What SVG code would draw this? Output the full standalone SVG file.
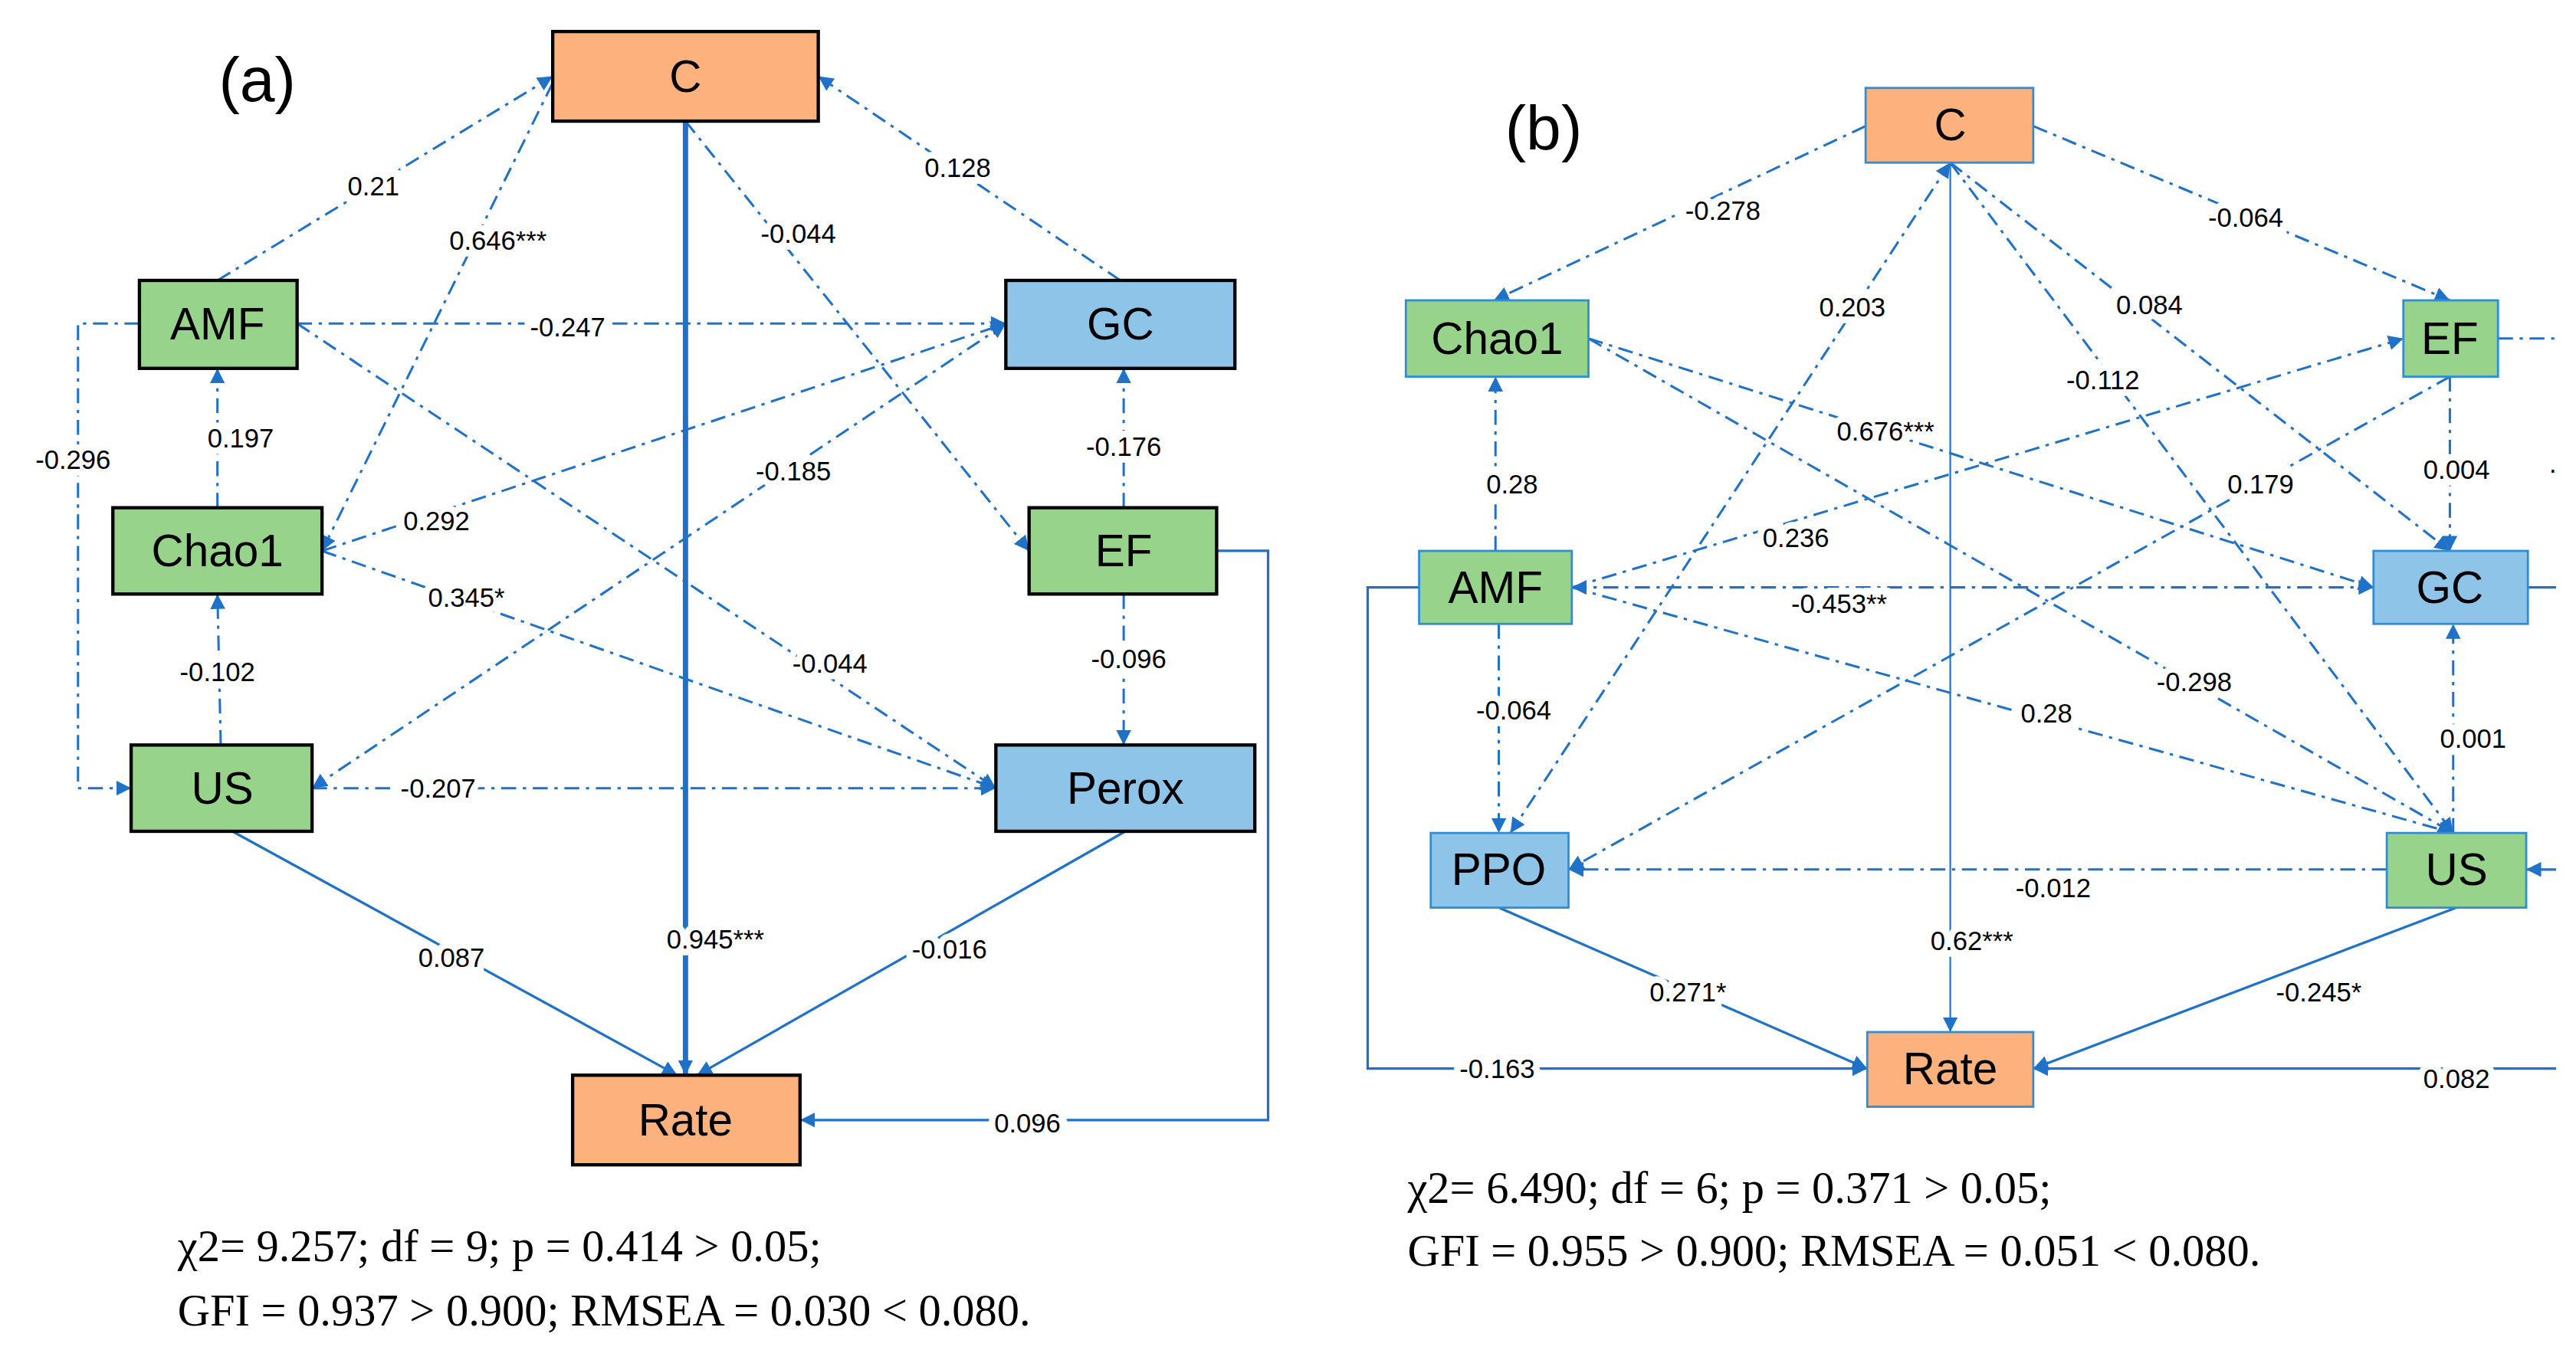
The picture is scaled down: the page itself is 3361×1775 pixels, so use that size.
<svg xmlns="http://www.w3.org/2000/svg" width="3361" height="1775" viewBox="0 0 3361 1775">
<style>
.na{stroke:#000;stroke-width:2}
.nb{stroke:#2e8fd6;stroke-width:1.3}
.or{fill:#fdb27e}.gr{fill:#97d38a}.bl{fill:#8ec4e8}
.nt{font-family:"Liberation Sans",Arial,sans-serif;font-size:27px;text-anchor:middle;dominant-baseline:central;fill:#000}
.dd{fill:none;stroke:#1f72c8;stroke-width:1.4;stroke-dasharray:9 4 2 4}
.so{fill:none;stroke:#1f72c8;stroke-width:1.5}
.tk{fill:none;stroke:#1f72c8;stroke-width:3.2}
.lb{font-family:"Liberation Sans",Arial,sans-serif;font-size:16px;text-anchor:middle;dominant-baseline:central;fill:#000;stroke:#fff;stroke-width:8;paint-order:stroke}
.st{font-family:"Liberation Serif","Times New Roman",serif;font-size:27px;fill:#000}
.pl{font-family:"Liberation Sans",Arial,sans-serif;font-size:38px;text-anchor:middle;dominant-baseline:central}
</style>
<defs>
<marker id="ar" viewBox="0 0 10 10" refX="10" refY="5" markerWidth="9" markerHeight="9" markerUnits="userSpaceOnUse" orient="auto-start-reverse"><path d="M0,0 L10,5 L0,10 z" fill="#1f72c8"/></marker>
</defs>
<rect width="3361" height="1775" fill="#fff"/>
<g transform="scale(2.1656)">
<g id="connectors">
<!-- panel a -->
<path class="dd" d="M131,169 L333,46" marker-end="url(#ar)"/>
<path class="dd" d="M333,50 L194,332" marker-end="url(#ar)"/>
<path class="dd" d="M675,169 L493,46" marker-end="url(#ar)"/>
<path class="dd" d="M413,73 L620,332" marker-end="url(#ar)"/>
<path class="tk" d="M413,73 L413,648" marker-end="url(#ar)"/>
<path class="dd" d="M179,195 L606,195" marker-end="url(#ar)"/>
<path class="dd" d="M179,195 L600,475" marker-end="url(#ar)"/>
<path class="dd" d="M194,332 L600,475" marker-end="url(#ar)"/>
<path class="dd" d="M194,332 L606,195" marker-end="url(#ar)"/>
<path class="dd" d="M606,195 L188,475" marker-start="url(#ar)" marker-end="url(#ar)"/>
<path class="dd" d="M188,475 L600,475" marker-end="url(#ar)"/>
<path class="dd" d="M84,195 L47,195 L47,475 L79,475" marker-end="url(#ar)"/>
<path class="dd" d="M131,306 L131,222" marker-end="url(#ar)"/>
<path class="dd" d="M133,449 L131,358" marker-end="url(#ar)"/>
<path class="dd" d="M677,306 L677,222" marker-end="url(#ar)"/>
<path class="dd" d="M677,358 L677,449" marker-end="url(#ar)"/>
<path class="so" d="M140,501 L408,648" marker-end="url(#ar)"/>
<path class="so" d="M678,501 L420,648" marker-end="url(#ar)"/>
<path class="so" d="M733,332 L764,332 L764,675 L482,675" marker-end="url(#ar)"/>
<!-- panel b -->
<path class="dd" d="M1124,76 L900,181" marker-end="url(#ar)"/>
<path class="dd" d="M1225,76 L1476,181" marker-end="url(#ar)"/>
<path class="so" style="stroke-width:1" d="M1175,98 L1175,622" marker-end="url(#ar)"/>
<path class="dd" d="M1175,98 L910,502" marker-start="url(#ar)" marker-end="url(#ar)"/>
<path class="dd" d="M1175,98 L1476,332" marker-end="url(#ar)"/>
<path class="dd" d="M1175,98 L1478,502" marker-end="url(#ar)"/>
<path class="dd" d="M957,204 L1430,354" marker-end="url(#ar)"/>
<path class="dd" d="M957,204 L1478,502" marker-end="url(#ar)"/>
<path class="dd" d="M901,332 L901,227" marker-end="url(#ar)"/>
<path class="dd" d="M947,354 L1448,204" marker-end="url(#ar)"/>
<path class="dd" d="M947,354 L1430,354" marker-start="url(#ar)" marker-end="url(#ar)"/>
<path class="dd" d="M1476,227 L1476,332" marker-end="url(#ar)"/>
<path class="dd" d="M1476,227 L945,524" marker-end="url(#ar)"/>
<path class="dd" d="M947,354 L1478,502" marker-end="url(#ar)"/>
<path class="dd" d="M903,376 L903,502" marker-end="url(#ar)"/>
<path class="dd" d="M1438,524 L945,524" marker-end="url(#ar)"/>
<path class="dd" d="M1478,502 L1478,376" marker-end="url(#ar)"/>
<path class="so" d="M903,547 L1125,644" marker-end="url(#ar)"/>
<path class="so" d="M1480,547 L1225,644" marker-end="url(#ar)"/>
<path class="so" d="M855,354 L824,354 L824,644 L1125,644" marker-end="url(#ar)"/>
<path class="dd" d="M1505,204 L1540,204"/>
<path class="so" d="M1523,354 L1540,354"/>
<path class="so" d="M1540,524 L1522,524" marker-end="url(#ar)"/>
<path class="so" d="M1540,644 L1225,644" marker-end="url(#ar)"/>
</g>
<g id="labels">
<text class="lb" x="225" y="112">0.21</text>
<text class="lb" x="300" y="145">0.646***</text>
<text class="lb" x="577" y="101">0.128</text>
<text class="lb" x="481" y="141">-0.044</text>
<text class="lb" x="342" y="197">-0.247</text>
<text class="lb" x="44" y="277">-0.296</text>
<text class="lb" x="145" y="264">0.197</text>
<text class="lb" x="263" y="314">0.292</text>
<text class="lb" x="281" y="360">0.345*</text>
<text class="lb" x="478" y="284">-0.185</text>
<text class="lb" x="677" y="269">-0.176</text>
<text class="lb" x="131" y="405">-0.102</text>
<text class="lb" x="500" y="400">-0.044</text>
<text class="lb" x="680" y="397">-0.096</text>
<text class="lb" x="264" y="475">-0.207</text>
<text class="lb" x="272" y="577">0.087</text>
<text class="lb" x="431" y="566">0.945***</text>
<text class="lb" x="572" y="572">-0.016</text>
<text class="lb" x="619" y="677">0.096</text>
<text class="lb" x="1038" y="127">-0.278</text>
<text class="lb" x="1353" y="131">-0.064</text>
<text class="lb" x="1116" y="185">0.203</text>
<text class="lb" x="1295" y="184">0.084</text>
<text class="lb" x="1267" y="229">-0.112</text>
<text class="lb" x="1136" y="260">0.676***</text>
<text class="lb" x="1480" y="283">0.004</text>
<text class="lb" x="911" y="292">0.28</text>
<text class="lb" x="1362" y="292">0.179</text>
<text class="lb" x="1082" y="324">0.236</text>
<text class="lb" x="1108" y="364">-0.453**</text>
<text class="lb" x="1322" y="411">-0.298</text>
<text class="lb" x="912" y="428">-0.064</text>
<text class="lb" x="1233" y="430">0.28</text>
<text class="lb" x="1490" y="445">0.001</text>
<text class="lb" x="1237" y="535">-0.012</text>
<text class="lb" x="1188" y="567">0.62***</text>
<text class="lb" x="1017" y="598">0.271*</text>
<text class="lb" x="1397" y="598">-0.245*</text>
<text class="lb" x="902" y="644">-0.163</text>
<text class="lb" x="1480" y="650">0.082</text>
</g>
<g id="nodeA_C"><rect class="na or" x="333" y="19" width="160" height="54"/><text class="nt" x="413" y="46">C</text></g>
<g id="nodeA_AMF"><rect class="na gr" x="84" y="169" width="95" height="53"/><text class="nt" x="131" y="195">AMF</text></g>
<g id="nodeA_GC"><rect class="na bl" x="606" y="169" width="138" height="53"/><text class="nt" x="675" y="195">GC</text></g>
<g id="nodeA_Chao1"><rect class="na gr" x="68" y="306" width="126" height="52"/><text class="nt" x="131" y="332">Chao1</text></g>
<g id="nodeA_EF"><rect class="na gr" x="620" y="306" width="113" height="52"/><text class="nt" x="677" y="332">EF</text></g>
<g id="nodeA_US"><rect class="na gr" x="79" y="449" width="109" height="52"/><text class="nt" x="134" y="475">US</text></g>
<g id="nodeA_Perox"><rect class="na bl" x="600" y="449" width="156" height="52"/><text class="nt" x="678" y="475">Perox</text></g>
<g id="nodeA_Rate"><rect class="na or" x="345" y="648" width="137" height="54"/><text class="nt" x="413" y="675">Rate</text></g>
<g id="nodeB_C"><rect class="nb or" x="1124" y="53" width="101" height="45"/><text class="nt" x="1175" y="75">C</text></g>
<g id="nodeB_Chao1"><rect class="nb gr" x="847" y="181" width="110" height="46"/><text class="nt" x="902" y="204">Chao1</text></g>
<g id="nodeB_EF"><rect class="nb gr" x="1448" y="181" width="57" height="46"/><text class="nt" x="1476" y="204">EF</text></g>
<g id="nodeB_AMF"><rect class="nb gr" x="855" y="332" width="92" height="44"/><text class="nt" x="901" y="354">AMF</text></g>
<g id="nodeB_GC"><rect class="nb bl" x="1430" y="332" width="93" height="44"/><text class="nt" x="1476" y="354">GC</text></g>
<g id="nodeB_PPO"><rect class="nb bl" x="862" y="502" width="83" height="45"/><text class="nt" x="903" y="524">PPO</text></g>
<g id="nodeB_US"><rect class="nb gr" x="1438" y="502" width="84" height="45"/><text class="nt" x="1480" y="524">US</text></g>
<g id="nodeB_Rate"><rect class="nb or" x="1125" y="622" width="100" height="45"/><text class="nt" x="1175" y="644">Rate</text></g>
<text class="pl" x="155" y="48">(a)</text>
<text class="pl" x="930" y="77">(b)</text>
<text class="lb" x="1538" y="283">·</text>
<text class="st" x="107" y="760">χ2= 9.257; df = 9; p = 0.414 &gt; 0.05;</text>
<text class="st" x="107" y="799">GFI = 0.937 &gt; 0.900; RMSEA = 0.030 &lt; 0.080.</text>
<text class="st" x="848" y="725">χ2= 6.490; df = 6; p = 0.371 &gt; 0.05;</text>
<text class="st" x="848" y="763">GFI = 0.955 &gt; 0.900; RMSEA = 0.051 &lt; 0.080.</text>
</g>
</svg>
